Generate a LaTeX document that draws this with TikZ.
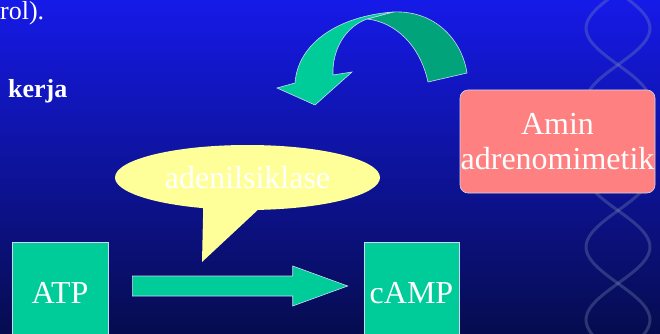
\documentclass[tikz,border=0pt]{standalone}
\usepackage{fontspec}
\setmainfont{Liberation Serif}
\usepackage{tikz}
\usetikzlibrary{shapes.geometric, shapes.callouts, calc}
\definecolor{bgtop}{RGB}{22,26,232}
\definecolor{bgmid}{RGB}{8,12,175}
\definecolor{bgbot}{RGB}{6,12,78}
\definecolor{enzgreen}{RGB}{0,204,153}
\definecolor{enzdark}{RGB}{0,163,122}
\definecolor{aminpink}{RGB}{255,128,128}
\definecolor{calloutyel}{RGB}{255,255,153}
\definecolor{helixgray}{RGB}{130,150,185}
\definecolor{edgewhite}{RGB}{205,215,245}

\begin{document}
\begin{tikzpicture}[x=1pt, y=-1pt,
  mol/.style={rectangle, draw=edgewhite, line width=0.6pt, fill=enzgreen, minimum width=96pt, minimum height=102pt, inner sep=0pt, text=white, font=\fontsize{32}{35}\selectfont},
  drug/.style={rectangle, rounded corners=8pt, draw=edgewhite, line width=0.6pt, fill=aminpink, minimum width=195pt, minimum height=103pt, inner sep=0pt, align=center, text=white, font=\fontsize{32}{35}\selectfont},
  bubble/.style={ellipse callout, fill=calloutyel, minimum width=265pt, minimum height=65pt, inner sep=0pt, text=white, font=\fontsize{32}{35}\selectfont, callout pointer arc=24},
  slide/.style={text=white, inner sep=0pt, font=\fontsize{26}{30}\selectfont},
  blockarr/.style={fill=enzgreen, draw=edgewhite, line width=0.6pt},
  turnarr/.style={draw=edgewhite, line width=0.6pt},
  strand/.style={draw=helixgray, line width=3pt, opacity=0.3}
]
\useasboundingbox (0,0) rectangle (660,334);
\clip (0,0) rectangle (660,334);
% Background
\shade[top color=bgtop, middle color=bgmid, bottom color=bgbot] (0,0) rectangle (660,334);
\draw[strand] plot[domain=-10:344, samples=80] ({618+32*sin(2.47*\x+20)}, \x);
\draw[strand] plot[domain=-10:344, samples=80] ({618+32*sin(2.47*\x+200)}, \x);
% Slide text
\node[slide, anchor=base west] (prev) at (0,20) {rol).};
\node[slide, anchor=base west, font=\fontsize{26}{30}\selectfont\bfseries] (kerja) at (8,97) {kerja};
% Molecules
\node[mol] (atp) at (60,293) {ATP};
\node[mol, minimum width=95pt] (camp) at (411.5,293) {cAMP};
\node[drug] (amin) at (557.5,141.5) {Amin\\adrenomimetik};
\node[bubble, callout absolute pointer={(202,262)}] (enzyme) at (247.5,177.5) {adenilsiklase};
% Curved arrow
\draw[turnarr, fill=enzdark] (393,12) .. controls (435,10) and (462,40) .. (467,73) -- (428,82) .. controls (420,45) and (395,22) .. (367,19) -- cycle;
\draw[turnarr, fill=enzgreen] (393,12) .. controls (340,16) and (298,42) .. (295,83) -- (277,88) -- (315,105) -- (352,72) -- (333,75) .. controls (332,50) and (345,27) .. (367,19) -- cycle;
% Reaction arrow
\coordinate (tail) at ([shift={(24pt,7pt)}]atp.east);
\coordinate (tip) at ([shift={(-16pt,7pt)}]camp.west);
\draw[blockarr] ([yshift=10pt]tail) -- ([shift={(-55pt,10pt)}]tip) -- ([shift={(-55pt,20pt)}]tip) -- (tip) -- ([shift={(-55pt,-20pt)}]tip) -- ([shift={(-55pt,-10pt)}]tip) -- ([yshift=-10pt]tail) -- cycle;
\end{tikzpicture}
\end{document}
